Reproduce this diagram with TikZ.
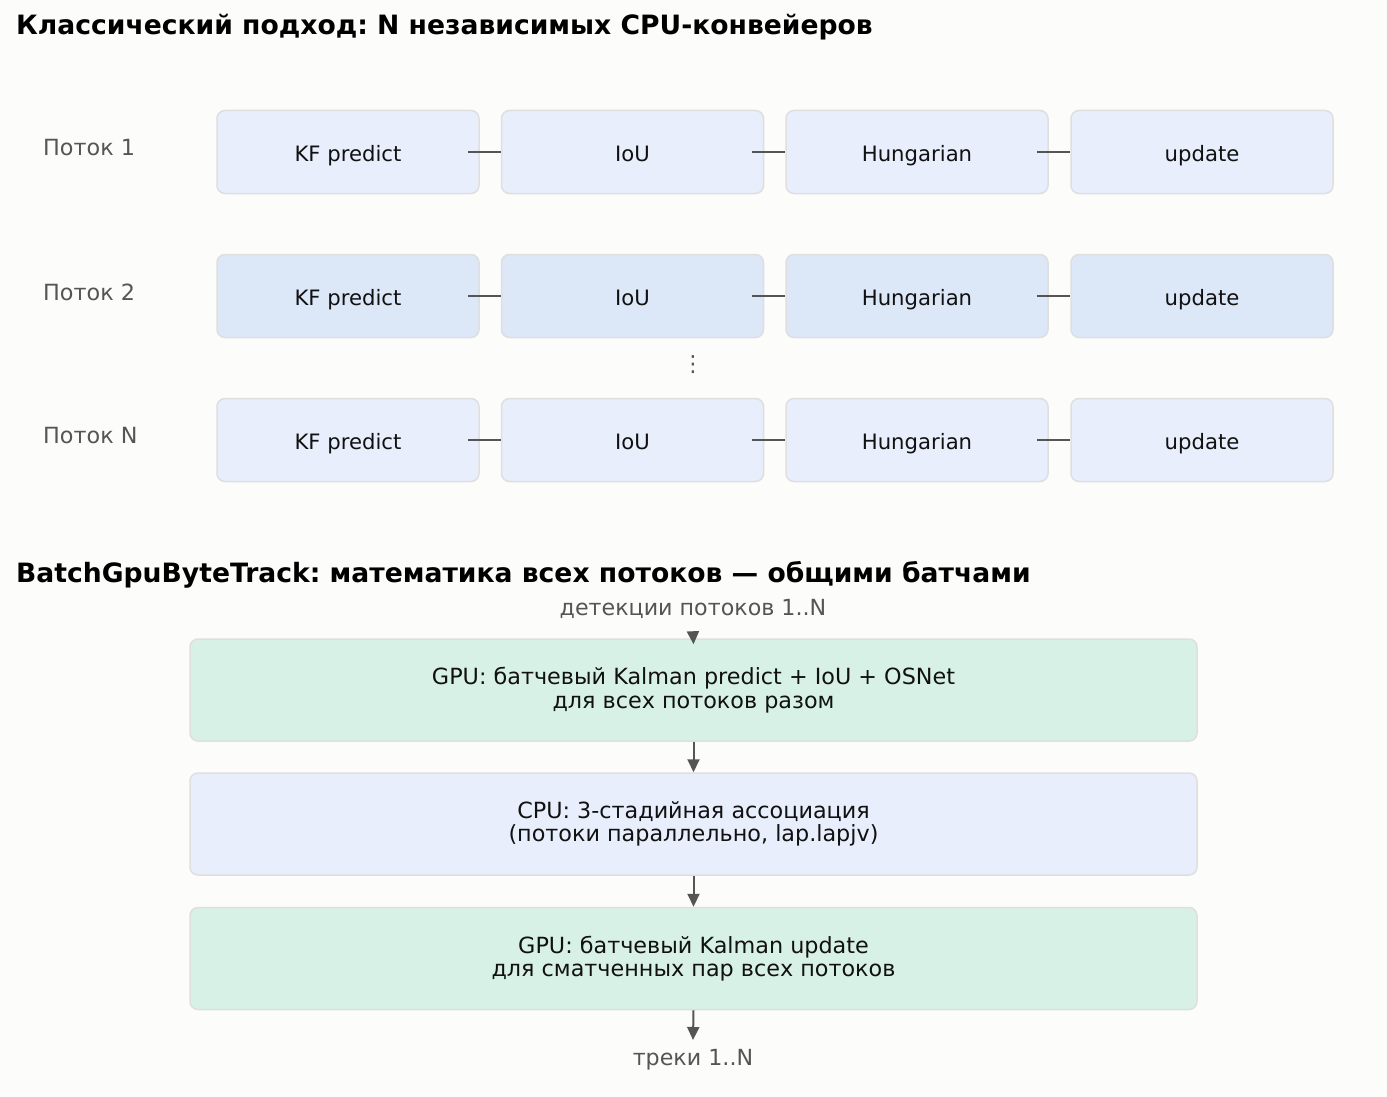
\documentclass[tikz,border=0pt]{standalone}
\usepackage{fontspec}
\setmainfont{DejaVu Sans}
\usetikzlibrary{arrows.meta,positioning}
\frenchspacing

\definecolor{bgcol}{HTML}{FCFCFB}
\definecolor{rowA}{HTML}{E8EEFB}
\definecolor{rowB}{HTML}{DCE7F8}
\definecolor{gpucol}{HTML}{D8F1E7}
\definecolor{edgecol}{HTML}{DFDFDF}
\definecolor{linecol}{HTML}{555555}
\definecolor{txtcol}{HTML}{111111}

\tikzset{
  headline/.style={anchor=west, inner sep=0pt, font=\bfseries\fontsize{26.6}{30}\selectfont, text=black},
  rowlabel/.style={anchor=west, inner sep=0pt, font=\fontsize{22.3}{26}\selectfont, text=linecol},
  stage/.style={draw=edgecol, line width=1.5pt, rounded corners=8pt, minimum width=262pt,
    minimum height=83pt, inner sep=0pt, text height=20pt, text depth=2pt,
    font=\fontsize{21.2}{24}\selectfont, text=txtcol},
  bigbox/.style={draw=edgecol, line width=1.5pt, rounded corners=8pt, minimum width=1007pt,
    minimum height=102pt, inner sep=0pt, align=center, font=\fontsize{22.3}{23.5}\selectfont, text=txtcol},
  note/.style={inner sep=0pt, font=\fontsize{22.2}{26}\selectfont, text=linecol},
  link/.style={draw=linecol, line width=2pt},
  flow/.style={draw=linecol, line width=2pt, -{Triangle[width=12pt,length=13pt]}, color=linecol}
}

\begin{document}
\begin{tikzpicture}[x=1pt, y=-1pt]
    % фон и рамка
    \fill[bgcol] (0,0) rectangle (1387,1097);

    % классический подход
    \node[headline] (t1) at (16,27) {Классический подход: N независимых CPU-конвейеров};

    \foreach \r/\y/\lab/\fillc in {1/152/1/rowA, 2/296/2/rowB, n/440/N/rowA} {
        \node[rowlabel] (lab\r) at (43,\y-4) {Поток \lab};
        \foreach \c/\x/\txt in {1/348/KF predict, 2/632.5/IoU, 3/917/Hungarian, 4/1202/update} {
            \node[stage, fill=\fillc] (s\r\c) at (\x,\y) {\txt};
        }
        \foreach \a/\b in {1/2, 2/3, 3/4} {
            \draw[link] ([xshift=-12pt]s\r\a.east) -- (s\r\b.west);
        }
    }
    \node[note, text=linecol] (dots) at (693,365) {⋮};

    % батчевый вариант
    \node[headline] (t2) at (16,575) {BatchGpuByteTrack: математика всех потоков — общими батчами};
    \node[note] (det) at (693,609) {детекции потоков 1..N};
    \coordinate (in1) at (693,632);

    \node[bigbox, fill=gpucol] (gpu1) at (693.5,690) {GPU: батчевый Kalman predict + IoU + OSNet\\для всех потоков разом};
    \node[bigbox, fill=rowA] (cpu) at (693.5,824) {CPU: 3-стадийная ассоциация\\(потоки параллельно, lap.lapjv)};
    \node[bigbox, fill=gpucol] (gpu2) at (693.5,958.5) {GPU: батчевый Kalman update\\для сматченных пар всех потоков};

    \node[note] (out) at (693,1060) {треки 1..N};
    \coordinate (out1) at (693,1040);

    \draw[flow] (in1) -- ([yshift=-6pt]gpu1.north);
    \draw[flow] (gpu1.south) -- (cpu.north);
    \draw[flow] (cpu.south) -- (gpu2.north);
    \draw[flow] (gpu2.south) -- (out1);
\end{tikzpicture}
\end{document}
